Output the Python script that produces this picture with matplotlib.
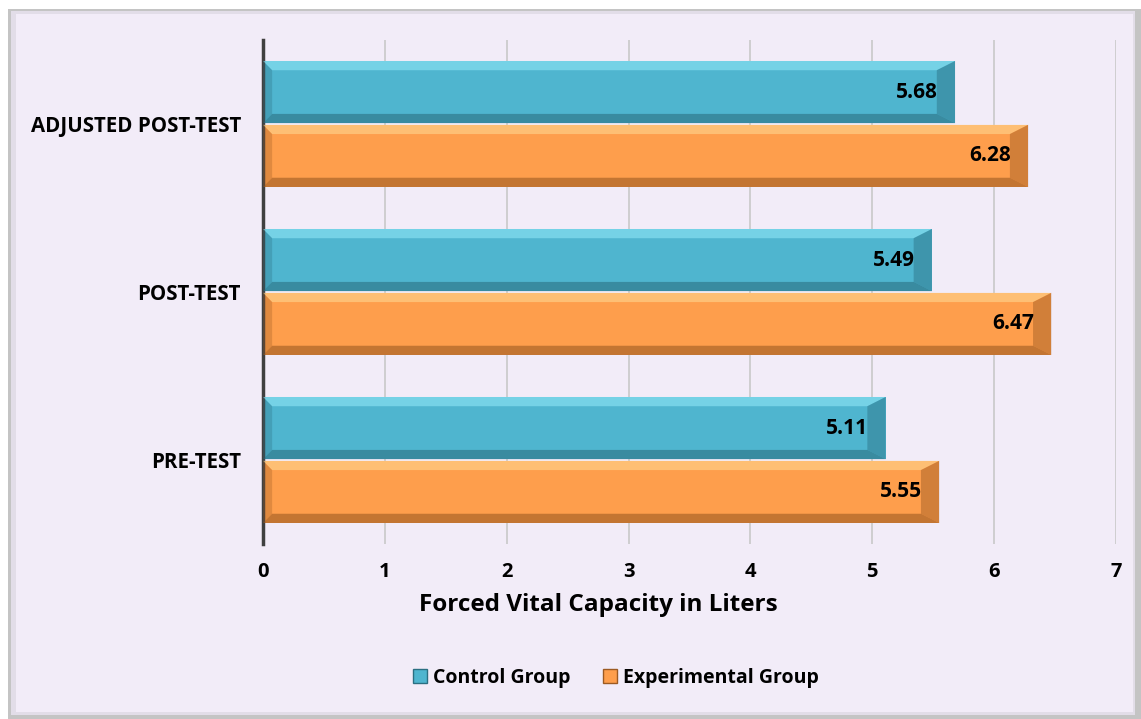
import numpy as np
import matplotlib.pyplot as plt
from matplotlib.patches import Rectangle, Polygon

categories = ["PRE-TEST", "POST-TEST", "ADJUSTED POST-TEST"]
control = [5.11, 5.49, 5.68]
experimental = [5.55, 6.47, 6.28]

teal = "#4FB5CF"
orange = "#FE9E4C"
bg = "#F2ECF8"

plt.rcParams["font.family"] = ["Open Sans", "DejaVu Sans"]

fig = plt.figure(figsize=(11.41, 7.19), dpi=100)
fig.patch.set_facecolor("white")

# panel behind the chart, with a soft grey rim
fig.patches.append(Rectangle((0.007, 0.0), 0.993, 0.988, transform=fig.transFigure,
                             facecolor="#C4C4C4", edgecolor="none", zorder=-10))
fig.patches.append(Rectangle((0.010, 0.006), 0.985, 0.979, transform=fig.transFigure,
                             facecolor="#E2DDE8", edgecolor="none", zorder=-9))
fig.patches.append(Rectangle((0.014, 0.010), 0.979, 0.970, transform=fig.transFigure,
                             facecolor=bg, edgecolor="none", zorder=-8))

ax = fig.add_axes([0.2305, 0.2434, 0.7475, 0.701])
ax.set_facecolor("none")

y = np.arange(len(categories))
h = 0.37


def bevel_bars(ypos, vals, color, dark, light):
    ax.barh(ypos, vals, height=h, color=color, edgecolor="none", zorder=2)
    for yy, v in zip(ypos, vals):
        top = yy + h / 2
        bot = yy - h / 2
        bw = 0.055  # bevel depth in y units
        bx = 0.15   # bevel depth in x units
        # lit top edge, shaded bottom edge, darker right end
        ax.add_patch(Polygon([(0, top), (v, top), (v - bx, top - bw), (bx * 0.5, top - bw)],
                             facecolor=light, edgecolor="none", alpha=0.6, zorder=3))
        ax.add_patch(Polygon([(0, bot), (v, bot), (v - bx, bot + bw), (bx * 0.5, bot + bw)],
                             facecolor=dark, edgecolor="none", alpha=0.6, zorder=3))
        ax.add_patch(Polygon([(v, top), (v, bot), (v - bx, bot + bw), (v - bx, top - bw)],
                             facecolor=dark, edgecolor="none", alpha=0.45, zorder=3))
        ax.add_patch(Polygon([(0, top), (0, bot), (bx * 0.5, bot + bw), (bx * 0.5, top - bw)],
                             facecolor=dark, edgecolor="none", alpha=0.3, zorder=3))
        ax.text(v - 0.14, yy, f"{v:.2f}", ha="right", va="center",
                fontsize=15, fontweight="bold", color="black", zorder=4)


bevel_bars(y + h / 2 + 0.005, control, teal, "#2B6F82", "#8FE6F7")
bevel_bars(y - h / 2 - 0.005, experimental, orange, "#9C5A22", "#FFD690")

ax.set_xlim(0, 7)
ax.set_ylim(-0.5, 2.5)
ax.set_xticks(range(8))
ax.set_yticks(y)
ax.set_yticklabels(categories, fontsize=14.8, fontweight="bold")
ax.tick_params(axis="x", labelsize=14.5, length=0, pad=13)
for lbl in ax.get_xticklabels():
    lbl.set_fontweight("bold")
ax.tick_params(axis="y", length=0, pad=16)
ax.xaxis.grid(True, color="#C8C8C8", linewidth=1.2, zorder=0)
ax.set_axisbelow(True)
for side in ["top", "right", "bottom"]:
    ax.spines[side].set_visible(False)
ax.spines["left"].set_color("#404040")
ax.spines["left"].set_linewidth(2.5)

fig.text(0.524, 0.158, "Forced Vital Capacity in Liters", ha="center", va="center",
         fontsize=17.5, fontweight="bold")

handles = [Rectangle((0, 0), 1, 1, facecolor=teal, edgecolor="#2B6F82"),
           Rectangle((0, 0), 1, 1, facecolor=orange, edgecolor="#9C5A22")]
fig.legend(handles, ["Control Group", "Experimental Group"], loc="center",
           bbox_to_anchor=(0.54, 0.057), ncol=2, frameon=False,
           prop={"size": 14, "weight": "bold"}, handlelength=0.7,
           handleheight=0.7, handletextpad=0.3, columnspacing=1.7)

fig.savefig("out.png", dpi=100, facecolor=fig.get_facecolor())
